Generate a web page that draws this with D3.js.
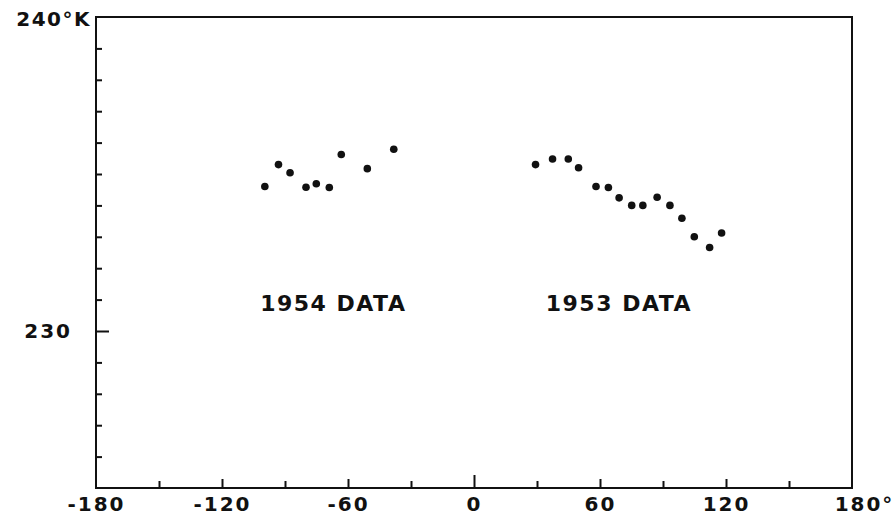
<!DOCTYPE html>
<html>
<head>
	<meta charset='utf-8'>
	<title>Temperature vs longitude</title>
	<style>
		body { margin: 0; background: #fff; }
		.frame { fill: none; stroke: #111; stroke-width: 2px; }
		.axis path.domain { display: none; }
		.axis line { stroke: #111; stroke-width: 2px; }
		.axis text, .lbl {
			font-family: 'DejaVu Sans', sans-serif;
			font-weight: bold;
			fill: #111;
		}
		.axis text { font-size: 20px; letter-spacing: 2px; }
		.lbl { font-size: 22px; letter-spacing: 1.5px; }
		.dot { fill: #111; }
	</style>
</head>
<body>
<script src='https://d3js.org/d3.v7.min.js'></script>
<script>
	'use strict';

	// longitude (deg) and temperature (K)
	const lon1954 = [-99.6, -93.1, -87.6, -80.0, -75.1, -68.9, -63.2, -50.8, -38.2];
	const temp1954 = [234.6, 235.3, 235.04, 234.58, 234.69, 234.57, 235.62, 235.17, 235.79];

	const lon1953 = [29.3, 37.4, 44.9, 49.8, 58.1, 64.0, 69.1, 75.1, 80.4, 87.2, 93.3, 99.0, 104.9, 112.2, 117.9];
	const temp1953 = [235.3, 235.48, 235.48, 235.2, 234.6, 234.57, 234.24, 234.0, 234.0, 234.26, 234.0, 233.59, 233.0, 232.66, 233.12];

	const xMajorTicks = [-180, -120, -60, 0, 60, 120, 180];
	const xMinorTicks = [-150, -90, -30, 30, 90, 150];
	const yMinorTicks = [226, 227, 228, 229, 231, 232, 233, 234, 235, 236, 237, 238, 239];
	const yLabelTicks = [230];
	const seriesLabels = ['1954 DATA', '1953 DATA'];

	const W = 896, H = 518;
	const margin = {top: 17, right: 44, bottom: 30, left: 96};
	const width = W - margin.left - margin.right;
	const height = H - margin.top - margin.bottom;

	const x = d3.scaleLinear().domain([-180, 180]).range([0, width]);
	const y = d3.scaleLinear().domain([225, 240]).range([height, 0]);

	const svg = d3.select('body').append('svg')
		.attr('width', W)
		.attr('height', H)
		.append('g')
		.attr('transform', 'translate(' + margin.left + ',' + margin.top + ')');

	// frame
	svg.append('rect')
		.attr('class', 'frame')
		.attr('x', 0).attr('y', 0)
		.attr('width', width).attr('height', height);

	// x axis: labelled ticks, minor ticks, longer tick at 0
	const xAxisMajor = svg.append('g')
		.attr('class', 'axis')
		.attr('transform', 'translate(0,' + height + ')')
		.call(d3.axisBottom(x)
			.tickValues(xMajorTicks)
			.tickSizeInner(-9)
			.tickSizeOuter(0)
			.tickPadding(9)
			.tickFormat(function(d) { return d === 180 ? '180°' : d; }));

	xAxisMajor.selectAll('.tick')
		.filter(function(d) { return d === 0; })
		.select('line').attr('y2', -13);
	xAxisMajor.selectAll('.tick')
		.filter(function(d) { return d === 180 || d === -180; })
		.select('line').remove();
	xAxisMajor.selectAll('.tick')
		.filter(function(d) { return d === 180; })
		.select('text').attr('dx', 12);

	svg.append('g')
		.attr('class', 'axis')
		.attr('transform', 'translate(0,' + height + ')')
		.call(d3.axisBottom(x)
			.tickValues(xMinorTicks)
			.tickSizeInner(-7)
			.tickSizeOuter(0)
			.tickFormat(''));

	// y axis
	svg.append('g')
		.attr('class', 'axis')
		.call(d3.axisLeft(y)
			.tickValues(yMinorTicks)
			.tickSizeInner(-6)
			.tickSizeOuter(0)
			.tickFormat(''));

	svg.append('g')
		.attr('class', 'axis')
		.call(d3.axisLeft(y)
			.tickValues(yLabelTicks)
			.tickSizeInner(-13)
			.tickSizeOuter(0)
			.tickPadding(24));

	// top label "240°K"
	svg.append('text')
		.attr('class', 'lbl')
		.attr('x', x(-180) - 5)
		.attr('y', y(240))
		.attr('dy', '0.45em')
		.attr('text-anchor', 'end')
		.style('font-size', '20px')
		.text('240°K');

	// points
	const data1954 = lon1954.map(function(d, i) { return {lon: d, t: temp1954[i]}; });
	const data1953 = lon1953.map(function(d, i) { return {lon: d, t: temp1953[i]}; });

	svg.selectAll('.dot')
		.data(data1954.concat(data1953))
		.enter()
		.append('circle')
		.attr('class', 'dot')
		.attr('r', 3.8)
		.attr('cx', function(d) { return x(d.lon); })
		.attr('cy', function(d) { return y(d.t); });

	// series labels
	svg.append('text')
		.attr('class', 'lbl')
		.attr('x', x(-67))
		.attr('y', y(230.63))
		.attr('text-anchor', 'middle')
		.text(seriesLabels[0]);

	svg.append('text')
		.attr('class', 'lbl')
		.attr('x', x(69))
		.attr('y', y(230.63))
		.attr('text-anchor', 'middle')
		.text(seriesLabels[1]);
</script>
</body>
</html>
